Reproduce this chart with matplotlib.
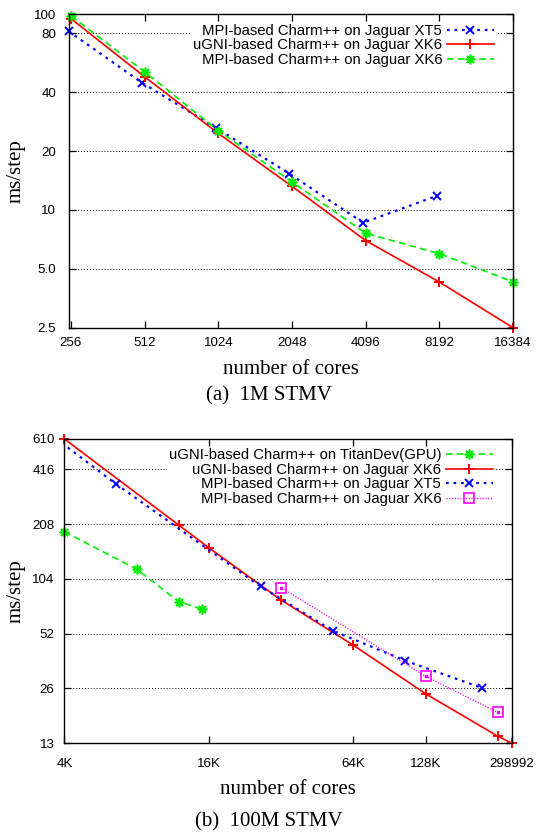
import matplotlib
matplotlib.use("Agg")
import matplotlib.pyplot as plt
from matplotlib.ticker import NullLocator

# (a) 1M STMV
cores_1m = [256, 512, 1024, 2048, 4096, 8192, 16384]
cores_1m_xt5 = [250, 500, 1000, 2000, 4000, 8000]
ms_1m_mpi_xt5 = [82, 44.6, 26.3, 15.3, 8.6, 11.8]
ms_1m_ugni_xk6 = [95, 47.9, 24.6, 13.2, 6.97, 4.28, 2.5]
ms_1m_mpi_xk6 = [98, 50.8, 25.4, 13.9, 7.6, 5.98, 4.29]
xticks_1m = [256, 512, 1024, 2048, 4096, 8192, 16384]
yticks_1m = [2.5, 5, 10, 20, 40, 80, 100]
ylabels_1m = ["2.5", "5.0", "10", "20", "40", "80", "100"]

# (b) 100M STMV
cores_gpu = [4096, 8192, 12288, 15360]
ms_gpu = [189, 117.6, 77.8, 70.9]
cores_100m_xk6 = [4096, 12288, 16384, 32768, 65536, 131072, 262144, 298992]
ms_100m_ugni_xk6 = [610, 205, 154, 79.6, 44.9, 24.3, 14.2, 13]
cores_100m_xt5 = [3360, 6720, 26880, 53760, 107520, 224256]
ms_100m_mpi_xt5 = [690, 345, 94.5, 54, 37, 26.2]
cores_100m_mpi_xk6 = [32768, 131072, 262144]
ms_100m_mpi_xk6 = [93.2, 30.3, 19.2]
xticks_100m = [4096, 16384, 65536, 131072, 298992]
xlabels_100m = ["4K", "16K", "64K", "128K", "298992"]
yticks_100m = [13, 26, 52, 104, 208, 416, 610]

SANS = "Liberation Sans"
SERIF = "Liberation Serif"

BLUE = "#0000ff"
RED = "#ff0000"
GREEN = "#00ee00"
MAGENTA = "#ff00ff"

dotted = (0, (1.2, 2.2))
fine_dot = (0, (0.8, 1.2))
dashed = (0, (4, 2.5))


def style_axes(ax, xlim, ylim, xticks, xlabels, yticks, ylabels, xpad, ypad):
    ax.set_xscale("log")
    ax.set_yscale("log")
    ax.set_xlim(*xlim)
    ax.set_ylim(*ylim)
    ax.set_xticks(xticks, xlabels)
    ax.set_yticks(yticks, ylabels)
    ax.xaxis.set_minor_locator(NullLocator())
    ax.yaxis.set_minor_locator(NullLocator())
    ax.tick_params(which="major", direction="in", top=True, right=True,
                   length=5, width=0.9, labelsize=9.6, colors="black")
    ax.tick_params(axis="x", pad=xpad)
    ax.tick_params(axis="y", pad=ypad)
    for lab in ax.get_xticklabels() + ax.get_yticklabels():
        lab.set_family(SANS)
    for sp in ax.spines.values():
        sp.set_linewidth(1.0)
    ax.grid(axis="y", which="major", linestyle=(0, (1, 2)), color="black",
            linewidth=0.7)
    ax.set_axisbelow(True)


def gnuplot_key(ax, anchor):
    # markerfirst=False puts the sample after the text and right-aligns rows
    return ax.legend(loc="upper right", bbox_to_anchor=anchor, markerfirst=False,
                     frameon=True, fancybox=False, framealpha=1,
                     edgecolor="none", facecolor="white",
                     prop={"family": SANS, "size": 10.7},
                     handlelength=3.2, handletextpad=0.3, labelspacing=0.03,
                     borderpad=0.1, borderaxespad=0)


fig = plt.figure(figsize=(5.37, 8.32), dpi=100)

# ---- (a) 1M STMV ----
ax1 = fig.add_axes([68.5 / 537, 1 - 327.7 / 832, 444.5 / 537, 313.4 / 832])
style_axes(ax1, (250, 16384), (2.5, 100), xticks_1m,
           [str(c) for c in xticks_1m], yticks_1m, ylabels_1m, 7.0, 9.0)

ax1.plot(cores_1m_xt5, ms_1m_mpi_xt5, color=BLUE, linestyle=dotted, lw=1.6,
         marker="x", ms=6, mew=1.4, clip_on=False,
         label="MPI-based Charm++ on Jaguar XT5")
ax1.plot(cores_1m, ms_1m_ugni_xk6, color=RED, linestyle="-", lw=1.2,
         marker="+", ms=7, mew=1.4, clip_on=False,
         label="uGNI-based Charm++ on Jaguar XK6")
ax1.plot(cores_1m, ms_1m_mpi_xk6, color=GREEN, linestyle=dashed, lw=1.2,
         marker=(8, 2, 0), ms=7, mew=1.2, clip_on=False,
         label="MPI-based Charm++ on Jaguar XK6")

ax1.set_xlabel("number of cores", family=SERIF, fontsize=15)
ax1.set_ylabel("ms/step", family=SERIF, fontsize=15)
ax1.xaxis.set_label_coords(0.5, -0.103)
ax1.yaxis.set_label_coords(-0.096, 0.5)
gnuplot_key(ax1, (0.961, 0.974))

fig.text(0.5, 1 - 396 / 832, "(a)  1M STMV", ha="center", va="center",
         family=SERIF, fontsize=15)

# ---- (b) 100M STMV ----
ax2 = fig.add_axes([64.4 / 537, 1 - 743.3 / 832, 447.3 / 537, 304.3 / 832])
style_axes(ax2, (4096, 298992), (13, 610), xticks_100m, xlabels_100m,
           yticks_100m, [str(v) for v in yticks_100m], 10.5, 7.0)

ax2.plot(cores_gpu, ms_gpu, color=GREEN, linestyle=dashed, lw=1.2,
         marker=(8, 2, 0), ms=7, mew=1.2, clip_on=False,
         label="uGNI-based Charm++ on TitanDev(GPU)")
ax2.plot(cores_100m_xk6, ms_100m_ugni_xk6, color=RED, linestyle="-", lw=1.2,
         marker="+", ms=7, mew=1.4, clip_on=False,
         label="uGNI-based Charm++ on Jaguar XK6")
ax2.plot(cores_100m_xt5, ms_100m_mpi_xt5, color=BLUE, linestyle=dotted, lw=1.6,
         marker="x", ms=6, mew=1.4,
         label="MPI-based Charm++ on Jaguar XT5")
ax2.plot(cores_100m_mpi_xk6, ms_100m_mpi_xk6, color=MAGENTA, linestyle=fine_dot,
         lw=1.0, marker="s", ms=6.5, mew=1.2, mfc="none", clip_on=False,
         label="MPI-based Charm++ on Jaguar XK6")
ax2.plot(cores_100m_mpi_xk6, ms_100m_mpi_xk6, linestyle="none", marker="s",
         ms=1.5, color=MAGENTA, clip_on=False)

ax2.set_xlabel("number of cores", family=SERIF, fontsize=15)
ax2.set_ylabel("ms/step", family=SERIF, fontsize=15)
ax2.xaxis.set_label_coords(0.5, -0.121)
ax2.yaxis.set_label_coords(-0.086, 0.5)
gnuplot_key(ax2, (0.962, 0.974))

fig.text(0.5, 1 - 822 / 832, "(b)  100M STMV", ha="center", va="center",
         family=SERIF, fontsize=15)

fig.savefig("out.png", dpi=100)
